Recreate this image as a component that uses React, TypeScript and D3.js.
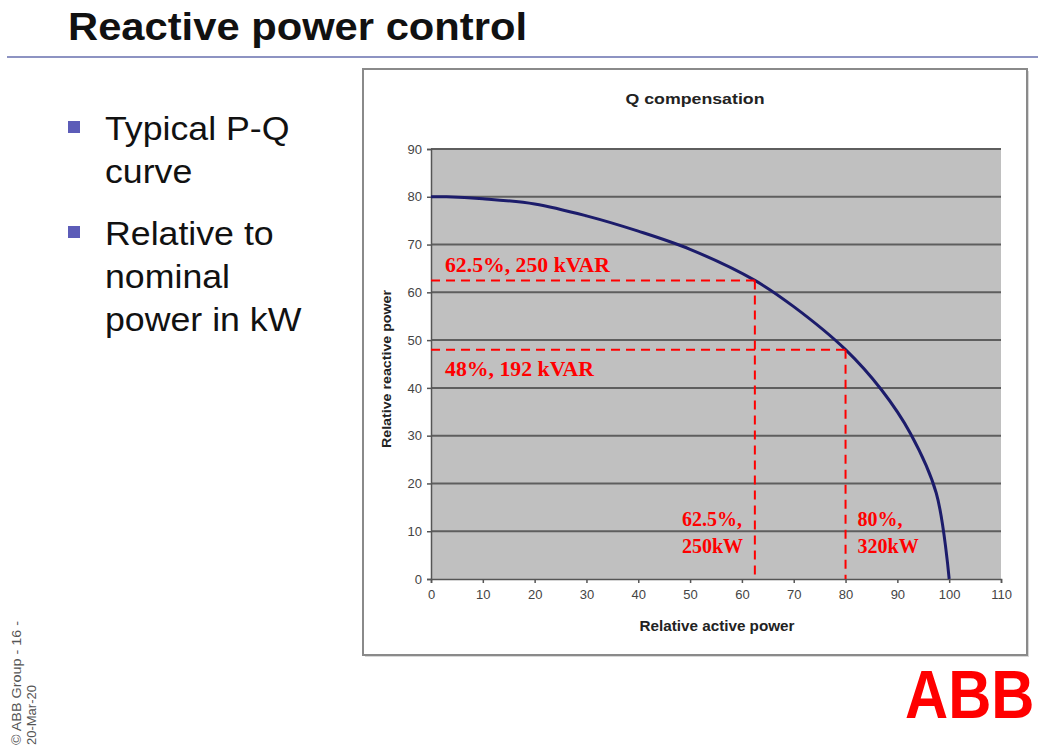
import { axisBottom, axisLeft, curveCatmullRom, line, scaleLinear, select } from "d3";
import { useEffect, useRef } from "react";

const activePower = [0, 3, 10, 20, 30, 40, 50, 62.5, 70, 80, 87, 92.5, 97.5, 100];
const reactivePower = [80, 80, 79.6, 78.5, 76, 72.8, 69, 62.5, 57, 48, 39.5, 30.5, 18, 0];
const xTicks = [0, 10, 20, 30, 40, 50, 60, 70, 80, 90, 100, 110];
const yTicks = [0, 10, 20, 30, 40, 50, 60, 70, 80, 90];

const markerP = [62.5, 80];
const markerQ = [62.5, 48];
const qLabels = ["62.5%, 250 kVAR", "48%, 192 kVAR"];
const pLabels = [
  ["62.5%,", "250kW"],
  ["80%,", "320kW"],
];
const bullets = [
  ["Typical P-Q", "curve"],
  ["Relative to", "nominal", "power in kW"],
];

export default function App() {
  const xAxisRef = useRef<SVGGElement>(null);
  const yAxisRef = useRef<SVGGElement>(null);

  const left = 431;
  const right = 1001;
  const top = 149;
  const bottom = 579;

  const x = scaleLinear().domain([0, 110]).range([left, right]);
  const y = scaleLinear().domain([0, 90]).range([bottom, top]);

  const points = activePower.map((p, i) => ({ p, q: reactivePower[i] }));
  const curvePath = line<{ p: number; q: number }>()
    .x((d) => x(d.p))
    .y((d) => y(d.q))
    .curve(curveCatmullRom.alpha(0.5))(points);

  useEffect(() => {
    const style = (g: any) => {
      g.selectAll("path, line").attr("stroke", "#555").attr("stroke-width", 1.5);
      g.selectAll("text")
        .attr("font-size", 13)
        .attr("fill", "#444")
        .attr("font-family", "Arial, 'Liberation Sans', sans-serif");
    };
    if (xAxisRef.current) {
      const g = select(xAxisRef.current);
      g.call(axisBottom(x).tickValues(xTicks).tickSize(4).tickPadding(7));
      style(g);
    }
    if (yAxisRef.current) {
      const g = select(yAxisRef.current);
      g.call(axisLeft(y).tickValues(yTicks).tickSize(4).tickPadding(5));
      style(g);
    }
  }, []);

  const sans = "Arial, 'Liberation Sans', Helvetica, sans-serif";
  const serif = "'Times New Roman', 'Liberation Serif', serif";
  const dash = "9 6";

  return (
    <svg
      width={1038}
      height={747}
      viewBox="0 0 1038 747"
      style={{ position: "absolute", top: 0, left: 0, background: "#fff" }}
      fontFamily={sans}
    >
      {/* slide header */}
      <text x={68} y={40} fontSize={38} fontWeight="bold" fill="#111" textLength={459} lengthAdjust="spacingAndGlyphs">
        Reactive power control
      </text>
      <line x1={7} x2={1038} y1={57} y2={57} stroke="#8d93c2" strokeWidth={2} />

      {bullets.map((lines, bi) => {
        const baseY = bi === 0 ? 140 : 245;
        return (
          <g key={bi}>
            <rect x={68} y={baseY - 19} width={12} height={12} fill="#5c5cb8" />
            {lines.map((t, li) => (
              <text
                key={li}
                x={105}
                y={baseY + li * 43}
                fontSize={34}
                fill="#111"
                transform="translate(105,0) scale(1.05,1) translate(-105,0)"
              >
                {t}
              </text>
            ))}
          </g>
        );
      })}

      {/* chart frame */}
      <rect x={365} y={71} width={664} height={586} fill="#d8d8d8" />
      <rect x={363} y={69} width={664} height={586} fill="#fff" stroke="#8a8a8a" strokeWidth={2} />
      <text x={695} y={104} fontSize={15} fontWeight="bold" textAnchor="middle" fill="#222" textLength={139} lengthAdjust="spacingAndGlyphs">
        Q compensation
      </text>

      <rect x={left} y={top} width={right - left} height={bottom - top} fill="#c0c0c0" />
      {yTicks.slice(1).map((t) => (
        <line key={t} x1={left} x2={right} y1={y(t)} y2={y(t)} stroke="#5e5e5e" strokeWidth={2} />
      ))}

      <g ref={xAxisRef} transform={`translate(0,${bottom})`} />
      <g ref={yAxisRef} transform={`translate(${left},0)`} />

      <text
        transform={`translate(391,${(top + bottom) / 2 + 5}) rotate(-90)`}
        fontSize={13}
        fontWeight="bold"
        textAnchor="middle"
        fill="#222"
        textLength={158}
        lengthAdjust="spacingAndGlyphs"
      >
        Relative reactive power
      </text>
      <text x={717} y={631} fontSize={14} fontWeight="bold" textAnchor="middle" fill="#222" textLength={155} lengthAdjust="spacingAndGlyphs">
        Relative active power
      </text>

      {curvePath ? (
        <path d={curvePath} fill="none" stroke="#1c1c6b" strokeWidth={3} strokeLinejoin="round" />
      ) : null}

      {/* red annotation lines */}
      {markerP.map((p, i) => (
        <g key={p}>
          <line
            x1={left}
            x2={x(p)}
            y1={y(markerQ[i])}
            y2={y(markerQ[i])}
            stroke="#ff0000"
            strokeWidth={2}
            strokeDasharray={dash}
          />
          <line
            x1={x(p)}
            x2={x(p)}
            y1={y(markerQ[i])}
            y2={y(0)}
            stroke="#ff0000"
            strokeWidth={2}
            strokeDasharray={dash}
          />
        </g>
      ))}

      {qLabels.map((t, i) => (
        <text
          key={t}
          x={445}
          y={i === 0 ? y(markerQ[i]) - 8 : y(markerQ[i]) + 26}
          fontSize={20}
          fontWeight="bold"
          fill="#ff0000"
          fontFamily={serif}
          textLength={i === 0 ? 165 : 149}
          lengthAdjust="spacingAndGlyphs"
        >
          {t}
        </text>
      ))}

      {pLabels.map((lines, i) => {
        const lx = i === 0 ? 682 : x(markerP[i]) + 12;
        return (
          <g key={i}>
            {lines.map((t, li) => (
              <text
                key={li}
                x={lx}
                y={526 + li * 27}
                fontSize={20}
                fontWeight="bold"
                fill="#ff0000"
                fontFamily={serif}
              >
                {t}
              </text>
            ))}
          </g>
        );
      })}

      {/* footer */}
      <text transform="translate(21,745) rotate(-90)" fontSize={13} fill="#555" textLength={124} lengthAdjust="spacingAndGlyphs">
        © ABB Group - 16 -
      </text>
      <text transform="translate(36,745) rotate(-90)" fontSize={13} fill="#555">
        20-Mar-20
      </text>

      {/* ABB logo */}
      <text transform="translate(905,718) scale(1.03,1.19)" fontSize={58} fontWeight={900} fill="#ff0000">
        ABB
      </text>
    </svg>
  );
}
